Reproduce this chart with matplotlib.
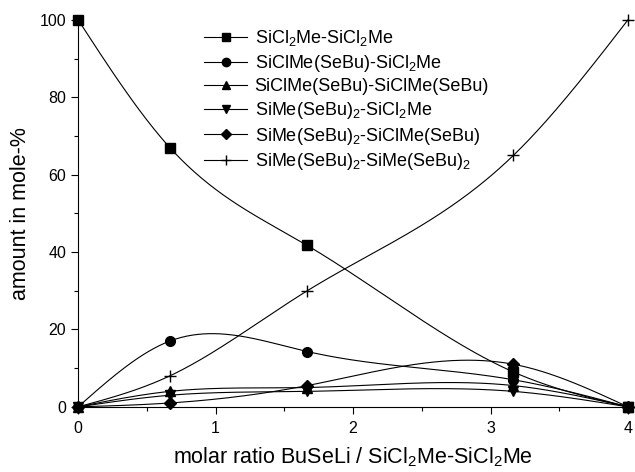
# mole fractions of the disilane species vs. added BuSeLi
import numpy as np
import matplotlib
matplotlib.use('Agg')
import matplotlib.pyplot as plt

plt.rcParams['font.family'] = ['Liberation Sans', 'DejaVu Sans']
plt.rcParams['mathtext.fontset'] = 'custom'
plt.rcParams['mathtext.rm'] = 'Liberation Sans'
plt.rcParams['mathtext.it'] = 'Liberation Sans:italic'
plt.rcParams['mathtext.bf'] = 'Liberation Sans:bold'

# data
ratio = [0, 0.667, 1.667, 3.167, 4]
sicl2me_sicl2me = [100, 67, 41.7, 9, 0]
sicl_sebu_sicl2me = [0, 17, 14.3, 7, 0]
sicl_sebu_sicl_sebu = [0, 4, 5, 5.5, 0]
si_sebu2_sicl2me = [0, 3, 4, 4, 0]
si_sebu2_sicl_sebu = [0, 1, 5.5, 11, 0]
si_sebu2_si_sebu2 = [0, 8, 30, 65, 100]

labels = ['SiCl$_2$Me-SiCl$_2$Me',
          'SiClMe(SeBu)-SiCl$_2$Me',
          'SiClMe(SeBu)-SiClMe(SeBu)',
          'SiMe(SeBu)$_2$-SiCl$_2$Me',
          'SiMe(SeBu)$_2$-SiClMe(SeBu)',
          'SiMe(SeBu)$_2$-SiMe(SeBu)$_2$']
series = [sicl2me_sicl2me, sicl_sebu_sicl2me, sicl_sebu_sicl_sebu,
          si_sebu2_sicl2me, si_sebu2_sicl_sebu, si_sebu2_si_sebu2]
markers = ['s', 'o', '^', 'v', 'D', '+']
msizes = [7, 7, 7, 7, 6, 8]


def natural_spline(x, y, xs):
    """natural cubic spline through the points, like the original plot's smoothed lines"""
    x = np.asarray(x, float)
    y = np.asarray(y, float)
    n = len(x)
    h = np.diff(x)
    A = np.zeros((n, n))
    b = np.zeros(n)
    A[0, 0] = 1
    A[-1, -1] = 1
    for i in range(1, n - 1):
        A[i, i - 1] = h[i - 1]
        A[i, i] = 2 * (h[i - 1] + h[i])
        A[i, i + 1] = h[i]
        b[i] = 3 * ((y[i + 1] - y[i]) / h[i] - (y[i] - y[i - 1]) / h[i - 1])
    c = np.linalg.solve(A, b)
    idx = np.clip(np.searchsorted(x, xs) - 1, 0, n - 2)
    dx = xs - x[idx]
    bb = (y[idx + 1] - y[idx]) / h[idx] - h[idx] * (2 * c[idx] + c[idx + 1]) / 3
    d = (c[idx + 1] - c[idx]) / (3 * h[idx])
    return y[idx] + bb * dx + c[idx] * dx ** 2 + d * dx ** 3


fig = plt.figure(figsize=(6.35, 4.72), dpi=100)
ax = fig.add_axes([0.123, 0.138, 0.866, 0.82])

xs = np.linspace(0, 4, 300)
for vals, lab, m, ms in zip(series, labels, markers, msizes):
    ax.plot(xs, natural_spline(ratio, vals, xs), color='black', lw=0.8, clip_on=False)
    ax.plot(ratio, vals, linestyle='none', marker=m, ms=ms, color='black',
            mew=1.0, clip_on=False, zorder=3)
    # proxy for the legend: line with marker in the middle
    ax.plot([], [], color='black', lw=0.8, marker=m, ms=ms - 1, mew=1.0, label=lab)

ax.set_xlim(0, 4)
ax.set_ylim(0, 100)
ax.set_xticks([0, 1, 2, 3, 4])
ax.set_xticks(np.arange(0, 4.01, 0.5), minor=True)
ax.set_yticks([0, 20, 40, 60, 80, 100])
ax.set_yticks(np.arange(0, 101, 10), minor=True)
ax.spines['top'].set_visible(False)
ax.spines['right'].set_visible(False)
ax.tick_params(which='major', direction='out', length=5, width=0.8, labelsize=11.5)
ax.tick_params(which='minor', direction='out', length=3, width=0.8)
ax.tick_params(axis='x', pad=5)
ax.set_xlabel('molar ratio BuSeLi / SiCl$_2$Me-SiCl$_2$Me', fontsize=15.5, labelpad=7)
ax.set_ylabel('amount in mole-%', fontsize=15.5, labelpad=6)

ax.legend(loc='upper left', bbox_to_anchor=(0.31, 0.955), bbox_transform=fig.transFigure,
          frameon=False, fontsize=13, handlelength=2.4, handletextpad=0.4,
          labelspacing=0.25, numpoints=1, borderaxespad=0)

fig.savefig('out.png', dpi=100)
